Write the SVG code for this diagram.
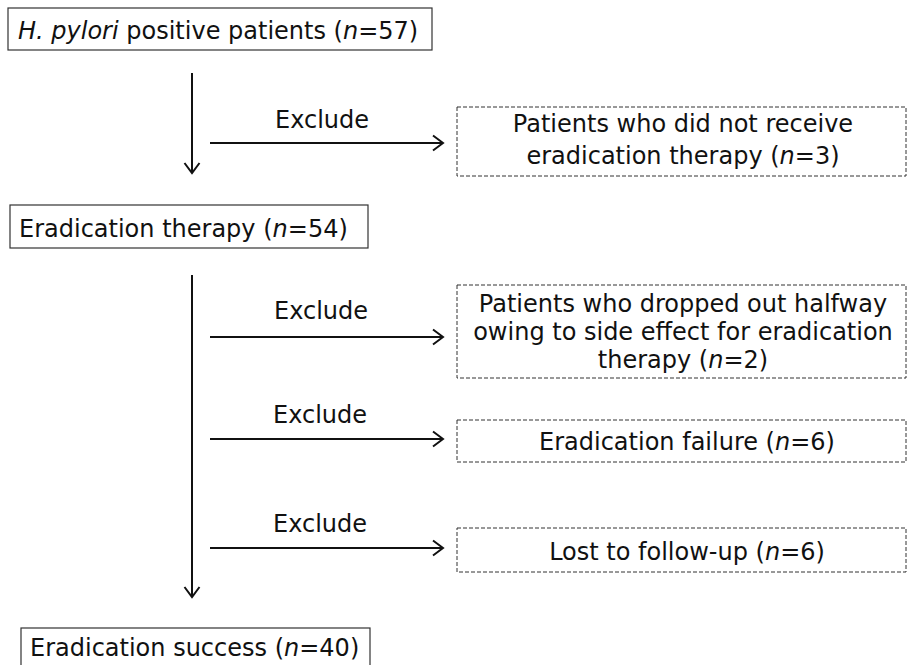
<svg xmlns="http://www.w3.org/2000/svg" width="908" height="665" viewBox="0 0 908 665">
<defs>
<marker id="ah" markerWidth="14" markerHeight="20" refX="12" refY="10" orient="auto" markerUnits="userSpaceOnUse">
<path d="M2,2.5 L12,10 L2,17.5" fill="none" stroke="#111" stroke-width="2"/>
</marker>
<style>
text{font-family:"DejaVu Sans",Verdana,sans-serif;font-size:24px;fill:#111}
.c{text-anchor:middle}
.solid{fill:#fff;stroke:#333;stroke-width:1.2}
.dash{fill:#fff;stroke:#333;stroke-width:1;stroke-dasharray:4 2}
.arr{stroke:#111;stroke-width:2;fill:none;marker-end:url(#ah)}
</style>
</defs>
<rect width="908" height="665" fill="#fff"/>
<g id="n1"><rect class="solid" x="8" y="8" width="424" height="42"/><text x="18" y="39"><tspan font-style="italic">H. pylori</tspan> positive patients (<tspan font-style="italic">n</tspan>=57)</text></g>
<g id="n2"><rect class="dash" x="457" y="107" width="449" height="69"/><text class="c" x="683" y="132">Patients who did not receive</text><text class="c" x="683" y="164">eradication therapy (<tspan font-style="italic">n</tspan>=3)</text></g>
<g id="n3"><rect class="solid" x="10" y="205" width="358" height="43"/><text x="19" y="237">Eradication therapy (<tspan font-style="italic">n</tspan>=54)</text></g>
<g id="n4"><rect class="dash" x="457" y="285" width="449" height="93"/><text class="c" x="683" y="312">Patients who dropped out halfway</text><text class="c" x="683" y="340">owing to side effect for eradication</text><text class="c" x="683" y="368">therapy (<tspan font-style="italic">n</tspan>=2)</text></g>
<g id="n5"><rect class="dash" x="457" y="420" width="449" height="42"/><text class="c" x="687" y="450">Eradication failure (<tspan font-style="italic">n</tspan>=6)</text></g>
<g id="n6"><rect class="dash" x="457" y="528" width="449" height="44"/><text class="c" x="687" y="560">Lost to follow-up (<tspan font-style="italic">n</tspan>=6)</text></g>
<g id="n7"><rect class="solid" x="21" y="628" width="349" height="40"/><text x="30" y="656">Eradication success (<tspan font-style="italic">n</tspan>=40)</text></g>
<g id="connectors">
<line class="arr" x1="192" y1="73" x2="192" y2="173"/>
<line class="arr" x1="210" y1="143" x2="443" y2="143"/>
<text class="c" x="322" y="128">Exclude</text>
<line class="arr" x1="192" y1="275" x2="192" y2="597"/>
<line class="arr" x1="210" y1="337" x2="443" y2="337"/>
<text class="c" x="321" y="319">Exclude</text>
<line class="arr" x1="210" y1="439" x2="443" y2="439"/>
<text class="c" x="320" y="423">Exclude</text>
<line class="arr" x1="210" y1="548" x2="443" y2="548"/>
<text class="c" x="320" y="532">Exclude</text>
</g>
</svg>
